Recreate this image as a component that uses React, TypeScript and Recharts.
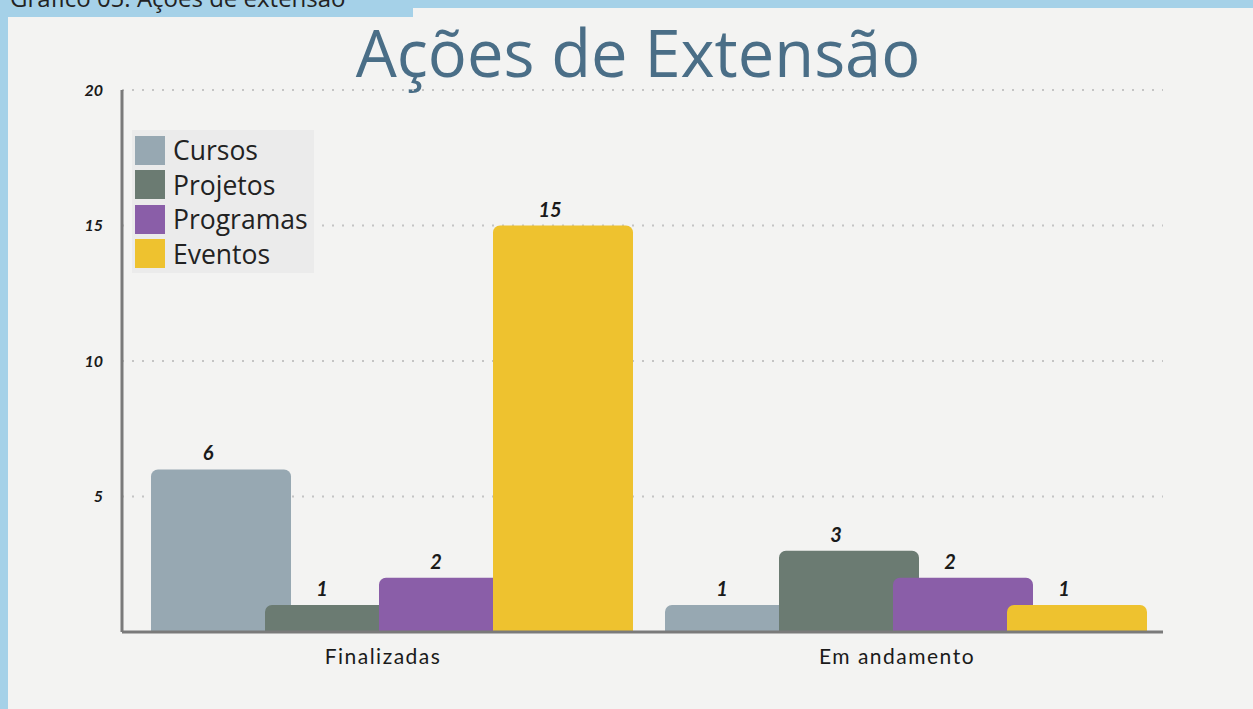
import { BarChart, Bar, XAxis, YAxis, CartesianGrid, Legend, LabelList } from 'recharts'

const categories = ['Finalizadas', 'Em andamento']
const cursos = [6, 1]
const projetos = [1, 3]
const programas = [2, 2]
const eventos = [15, 1]
const yTicks = [0, 5, 10, 15, 20]

const series = [
  { key: 'cursos', name: 'Cursos', color: '#97a8b2' },
  { key: 'projetos', name: 'Projetos', color: '#6b7b72' },
  { key: 'programas', name: 'Programas', color: '#8a5ea8' },
  { key: 'eventos', name: 'Eventos', color: '#eec22f' },
]

const data = categories.map((c, i) => ({
  name: c,
  cursos: cursos[i],
  projetos: projetos[i],
  programas: programas[i],
  eventos: eventos[i],
}))

const BAR_SIZE = 140
const BAR_GAP = -26
const handFont = 'Lato, "DejaVu Sans", sans-serif'

function ValueLabel(props: any) {
  const { x, y, value } = props
  return (
    <text
      x={x + (BAR_SIZE + BAR_GAP) / 2}
      y={y - 9}
      textAnchor="middle"
      fontFamily={handFont}
      fontStyle="italic"
      fontWeight="bold"
      fontSize={20}
      fill="#1a1a1a"
    >
      {value}
    </text>
  )
}

// legend keeps the series order (recharts would sort it by name)
function LegendBox() {
  return (
    <div style={{ background: '#ebebeb', padding: '3px 6px 2px 3px', fontFamily: '"Open Sans", sans-serif' }}>
      {series.map((s) => (
        <div key={s.key} style={{ display: 'flex', alignItems: 'center', height: 34.5 }}>
          <div style={{ width: 30, height: 29, background: s.color, marginRight: 8 }} />
          <span style={{ fontSize: 26.5, color: '#222', lineHeight: '30px' }}>{s.name}</span>
        </div>
      ))}
    </div>
  )
}

export default function App() {
  return (
    <div style={{ position: 'fixed', left: 0, top: 0, width: 1253, height: 709, background: '#a5d1e8', overflow: 'hidden' }}>
      <div style={{ position: 'absolute', left: 8, top: 8, right: 0, bottom: 0, background: '#f3f3f2' }} />
      <div style={{ position: 'absolute', left: 0, top: 0, width: 413, height: 17, background: '#a5d1e8', overflow: 'hidden' }}>
        <div style={{ position: 'absolute', left: 10, top: -14, fontFamily: '"Open Sans", sans-serif', fontSize: 24, lineHeight: '24px', color: '#222', whiteSpace: 'nowrap' }}>
          Gráfico 05: Ações de extensão
        </div>
      </div>
      <div
        style={{
          position: 'absolute',
          left: 238,
          top: 20,
          width: 800,
          textAlign: 'center',
          fontFamily: '"Open Sans", sans-serif',
          fontSize: 65,
          lineHeight: '65px',
          color: '#4a6e87',
        }}
      >
        Ações de Extensão
      </div>
      <div style={{ position: 'absolute', left: 0, top: 0 }}>
        <BarChart
          width={1253}
          height={709}
          data={data}
          barSize={BAR_SIZE}
          barGap={BAR_GAP}
          barCategoryGap={0}
          margin={{ top: 90, right: 90, bottom: 47, left: 82 }}
        >
          <CartesianGrid vertical={false} stroke="#c4c4c4" strokeWidth={2} strokeDasharray="2 8" />
          <XAxis
            dataKey="name"
            height={30}
            padding={{ left: 13, right: 0 }}
            axisLine={{ stroke: '#7a7a7a', strokeWidth: 3 }}
            tickLine={false}
            tickMargin={11}
            tick={{ fontSize: 21, fill: '#1a1a1a', fontFamily: handFont, dx: -9, letterSpacing: 1.5 }}
          />
          <YAxis
            width={40}
            domain={[0, 20]}
            ticks={yTicks}
            tickFormatter={(v) => (v === 0 ? '' : String(v))}
            axisLine={{ stroke: '#7a7a7a', strokeWidth: 3 }}
            tickLine={false}
            tickSize={4}
            tickMargin={15}
            tick={{ fontSize: 16, fill: '#1a1a1a', fontFamily: handFont, fontWeight: 'bold', fontStyle: 'italic' }}
          />
          <Legend
            layout="horizontal"
            align="center"
            verticalAlign="middle"
            content={<LegendBox />}
            wrapperStyle={{ left: 132, top: 130, width: 'auto', height: 'auto' }}
          />
          {series.map((s) => (
            <Bar
              key={s.key}
              dataKey={s.key}
              name={s.name}
              fill={s.color}
              radius={[7, 7, 0, 0]}
              isAnimationActive={false}
            >
              <LabelList dataKey={s.key} content={<ValueLabel />} />
            </Bar>
          ))}
        </BarChart>
      </div>
    </div>
  )
}
